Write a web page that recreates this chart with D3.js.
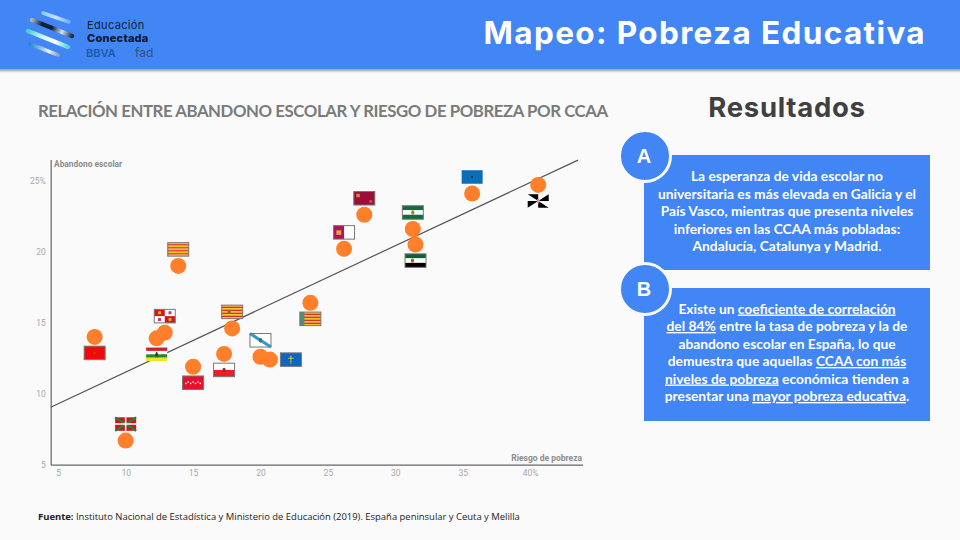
<!DOCTYPE html>
<html>
<head>
<meta charset="utf-8">
<script src="https://cdn.jsdelivr.net/npm/d3@7"></script>
<style>
    html, body { margin: 0; padding: 0; background: #fafafa; }
    svg { display: block; }
</style>
</head>
<body>
<div id="chart"></div>
<script>
// values
const regions = ["Navarra", "País Vasco", "La Rioja", "Castilla y León", "Cataluña", "Madrid", "Cantabria", "Aragón", "Galicia", "Asturias", "C. Valenciana", "Castilla-La Mancha", "Murcia", "Andalucía", "Extremadura", "Canarias", "Ceuta"];
const riesgoPobreza = [7.7, 10.0, 12.3, 12.9, 13.9, 15.0, 17.3, 17.9, 20.0, 20.7, 23.7, 26.2, 27.7, 31.3, 31.5, 35.7, 40.6];
const abandonoEscolar = [14.0, 6.7, 13.9, 14.3, 19.0, 11.9, 12.8, 14.6, 12.6, 12.4, 16.4, 20.2, 22.6, 21.6, 20.5, 24.1, 24.7];
const trendX = [4.44, 43.55];
const trendY = [9.05, 26.45];
const xTicks = [5, 10, 15, 20, 25, 30, 35, 40];
const yTicks = [5, 10, 15, 20, 25];

const textA = [
    [["La esperanza de vida escolar no"]],
    [["universitaria es más elevada en Galicia y el"]],
    [["País Vasco, mientras que presenta niveles"]],
    [["inferiores en las CCAA más pobladas:"]],
    [["Andalucía, Catalunya y Madrid."]]
];
const textB = [
    [["Existe un "], ["coeficiente de correlación", 1]],
    [["del 84%", 1], [" entre la tasa de pobreza y la de"]],
    [["abandono escolar en España, lo que"]],
    [["demuestra que aquellas "], ["CCAA con más", 1]],
    [["niveles de pobreza", 1], [" económica tienden a"]],
    [["presentar una "], ["mayor pobreza educativa", 1], ["."]]
];

const blue = "#4285f4";
const svg = d3.select("#chart").append("svg").attr("width", 960).attr("height", 540);
const defs = svg.append("defs");

// header band with a soft shadow
const shadow = defs.append("linearGradient").attr("id", "headShadow")
    .attr("x1", 0).attr("x2", 0).attr("y1", 0).attr("y2", 1);
shadow.append("stop").attr("offset", 0).attr("stop-color", "#999");
shadow.append("stop").attr("offset", 1).attr("stop-color", "#fafafa");

svg.append("rect").attr("x", 0).attr("y", 69).attr("width", 960).attr("height", 4).attr("fill", "url(#headShadow)");
svg.append("rect").attr("width", 960).attr("height", 69).attr("fill", blue);

svg.append("text")
    .attr("x", 926).attr("y", 44).attr("text-anchor", "end")
    .style("font-family", "Inter").style("font-size", "31.5px").style("font-weight", "700")
    .style("letter-spacing", "1.37px")
    .attr("fill", "#fff")
    .text("Mapeo: Pobreza Educativa");

// logo
const logo = svg.append("g").attr("stroke-linecap", "round").attr("fill", "none");
const logoStroke = (id, stops, x1, y1, x2, y2, w) => {
    const g = defs.append("linearGradient").attr("id", id).attr("gradientUnits", "userSpaceOnUse")
        .attr("x1", x1).attr("y1", y1).attr("x2", x2).attr("y2", y2);
    stops.forEach((c, i) => g.append("stop").attr("offset", i / (stops.length - 1)).attr("stop-color", c));
    logo.append("line").attr("x1", x1).attr("y1", y1).attr("x2", x2).attr("y2", y2)
        .attr("stroke", `url(#${id})`).attr("stroke-width", w);
};
logoStroke("l1", ["#8ccaf6", "#c4e4fa", "#63b4f2"], 43, 13, 69, 22, 3.5);
logoStroke("l2", ["#aab2bc", "#10203a", "#10203a", "#dbe2e8", "#1a2a40"], 32, 20, 72, 36, 4.5);
logoStroke("l3", ["#45d0cf", "#c8f4ef", "#ffffff", "#4fd6cf"], 28, 31, 68, 47, 4.5);
logoStroke("l4", ["#2b86cf", "#7fb9e6", "#e8f0f6", "#9aa4b0"], 30, 44, 58, 55, 3.5);

const logoText = (x, y, size, weight, color, str, spacing) => svg.append("text")
    .attr("x", x).attr("y", y)
    .style("font-family", "Inter").style("font-size", size + "px").style("font-weight", weight)
    .style("letter-spacing", spacing + "px")
    .attr("fill", color).text(str);
logoText(87, 29, 11, 400, "#0d1f3c", "Educación", 0.35);
logoText(87, 42.4, 11, 800, "#0a1a33", "Conectada", 0.25);
logoText(86, 57, 11, 600, "#1d5aa8", "BBVA", 0);
logoText(135, 57, 12, 400, "#31517f", "fad", 0);

// chart title
svg.append("text")
    .attr("x", 38).attr("y", 117)
    .style("font-family", "Lato").style("font-size", "16.8px").style("font-weight", "700")
    .style("letter-spacing", "-0.43px")
    .attr("fill", "#7a7a7a")
    .text("RELACIÓN ENTRE ABANDONO ESCOLAR Y RIESGO DE POBREZA POR CCAA");

// scatter
const x = d3.scaleLinear().domain([4.44, 43.9]).range([50.7, 582.7]);
const y = d3.scaleLinear().domain([5, 26.5]).range([464.7, 159.4]);

const xAxis = svg.append("g")
    .attr("transform", `translate(0,${y(5)})`)
    .call(d3.axisBottom(x).tickValues(xTicks).tickSize(0).tickPadding(5)
        .tickFormat(d => d === 40 ? d + "%" : d));
const yAxis = svg.append("g")
    .attr("transform", `translate(${x.range()[0]},0)`)
    .call(d3.axisLeft(y).tickValues(yTicks).tickSize(0).tickPadding(5)
        .tickFormat(d => d === 25 ? d + "%" : d));

[xAxis, yAxis].forEach(a => {
    a.select(".domain").attr("stroke", "#666").attr("stroke-width", 1.2);
    a.selectAll("text").style("font-family", "Roboto").style("font-size", "8.5px").attr("fill", "#a8a8a8");
});

svg.append("text")
    .attr("x", 54).attr("y", 166.5)
    .style("font-family", "Roboto").style("font-size", "8.4px").style("font-weight", "700")
    .attr("fill", "#8c8c8c").text("Abandono escolar");
svg.append("text")
    .attr("x", 582).attr("y", 460.5).attr("text-anchor", "end")
    .style("font-family", "Roboto").style("font-size", "8.5px").style("font-weight", "700")
    .attr("fill", "#8c8c8c").text("Riesgo de pobreza");

const trendLine = d3.line().x(d => x(d[0])).y(d => y(d[1]));
svg.append("path")
    .datum(d3.zip(trendX, trendY))
    .attr("d", trendLine)
    .attr("fill", "none").attr("stroke", "#555").attr("stroke-width", 1.2);

svg.selectAll(".punto")
    .data(regions)
    .enter().append("circle")
    .attr("class", "punto")
    .attr("cx", (d, i) => x(riesgoPobreza[i]))
    .attr("cy", (d, i) => y(abandonoEscolar[i]))
    .attr("r", 8)
    .attr("fill", "#ff7f2a");

// flags, small drawings around each point
const W = 21, H = 13.5;
const stripes = (g, cols) => {
    const total = d3.sum(cols, c => c[1]);
    let yy = -H / 2;
    cols.forEach(c => {
        const hh = c[1] / total * H;
        g.append("rect").attr("x", -W / 2).attr("y", yy).attr("width", W).attr("height", hh).attr("fill", c[0]);
        yy += hh;
    });
};
const senyera = g => stripes(g, d3.range(9).map(i => [i % 2 ? "#d8351f" : "#f6c21a", 1]));
const box = (g, x0, y0, w, h, c) => g.append("rect").attr("x", x0).attr("y", y0).attr("width", w).attr("height", h).attr("fill", c);
const shield = (g, x0, c) => g.append("ellipse").attr("cx", x0).attr("cy", 0).attr("rx", 1.6).attr("ry", 2.2).attr("fill", c);

const flagDraw = {
    "Navarra": g => { box(g, -W / 2, -H / 2, W, H, "#f00a0a"); shield(g, 0, "#a8551c").attr("rx", 1).attr("ry", 1.2); },
    "País Vasco": g => {
        box(g, -W / 2, -H / 2, W, H, "#c8171e");
        g.append("path").attr("d", `M${-W / 2},${-H / 2}L${W / 2},${H / 2}M${W / 2},${-H / 2}L${-W / 2},${H / 2}`).attr("stroke", "#2f7d32").attr("stroke-width", 2.2);
        g.append("path").attr("d", `M0,${-H / 2}V${H / 2}M${-W / 2},0H${W / 2}`).attr("stroke", "#fff").attr("stroke-width", 1.6);
    },
    "La Rioja": g => {
        stripes(g, [["#d01f2a", 1], ["#fff", 1], ["#1f8a2e", 1], ["#f2e41e", 1]]);
        shield(g, 0, "#333").attr("rx", 1.2);
    },
    "Castilla y León": g => {
        box(g, -W / 2, -H / 2, W, H, "#fff");
        box(g, -W / 2, -H / 2, W / 2, H / 2, "#d3141c");
        box(g, 0, 0, W / 2, H / 2, "#d3141c");
        [[-W / 4, -H / 4, "#e8a420"], [W / 4, -H / 4, "#c0406a"], [-W / 4, H / 4, "#c0406a"], [W / 4, H / 4, "#e8a420"]].forEach(s =>
            box(g, s[0] - 1.5, s[1] - 1.5, 3, 3, s[2]));
    },
    "Cataluña": senyera,
    "Madrid": g => {
        box(g, -W / 2, -H / 2, W, H, "#e8112d");
        d3.range(-3, 4).forEach(i => box(g, i * 2.4 - 0.7, -0.7 + (Math.abs(i) % 2 ? 0.7 : -0.7), 1.4, 1.4, "#fff"));
    },
    "Cantabria": g => { stripes(g, [["#fff", 1], ["#ee1c25", 1]]); shield(g, 0, "#7a3a2a"); },
    "Aragón": g => { senyera(g); shield(g, -3, "#8a6a2a"); },
    "Galicia": g => {
        box(g, -W / 2, -H / 2, W, H, "#fff");
        g.append("path").attr("d", `M${-W / 2},${-H / 2}L${W / 2},${H / 2}`).attr("stroke", "#2b9bd0").attr("stroke-width", 3);
        shield(g, 0, "#3f6a80");
    },
    "Asturias": g => {
        box(g, -W / 2, -H / 2, W, H, "#0f66bd");
        g.append("path").attr("d", "M0,-4V4M-2.6,-1.4H2.6").attr("stroke", "#f5c824").attr("stroke-width", 0.9);
    },
    "C. Valenciana": g => { senyera(g); box(g, -W / 2, -H / 2, 4.5, H, "#4f9070"); },
    "Castilla-La Mancha": g => {
        box(g, -W / 2, -H / 2, W, H, "#fff");
        box(g, -W / 2, -H / 2, W / 2, H, "#b4135a");
        box(g, -W / 4 - 2.5, -2, 5, 4.5, "#e0a83a");
    },
    "Murcia": g => {
        box(g, -W / 2, -H / 2, W, H, "#9b0d3a");
        box(g, -8, -4.5, 3.5, 3.5, "#d08a30");
        box(g, 5, 2, 3, 2.5, "#c85a40");
    },
    "Andalucía": g => { stripes(g, [["#0f6e3a", 1], ["#fff", 1], ["#0f6e3a", 1]]); shield(g, 0, "#8a8a30"); },
    "Extremadura": g => { stripes(g, [["#0f6034", 1], ["#fff", 1], ["#000", 1]]); shield(g, -3, "#8a6a2a"); },
    "Canarias": g => { box(g, -W / 2, -H / 2, W, H, "#0a6eb8"); shield(g, 0, "#223").attr("rx", 0.8).attr("ry", 1); },
    "Ceuta": g => {
        box(g, -W / 2, -H / 2, W, H, "#fafafa");
        g.append("path").attr("d", `M${-W / 2},${-H / 2}L0,${-H / 2}L0,0ZM${W / 2},${-H / 2}L${W / 2},0L0,0ZM${W / 2},${H / 2}L0,${H / 2}L0,0ZM${-W / 2},${H / 2}L${-W / 2},0L0,0Z`).attr("fill", "#000");
        shield(g, 0, "#e08a90");
    }
};
const sinBorde = ["País Vasco", "La Rioja", "Canarias", "Ceuta"];
const debajo = ["Navarra", "La Rioja", "Madrid", "Cantabria", "C. Valenciana", "Extremadura", "Ceuta"];

const flags = svg.selectAll(".bandera")
    .data(regions)
    .enter().append("g")
    .attr("class", "bandera")
    .attr("transform", (d, i) => {
        const fx = x(riesgoPobreza[i]) + (d === "Asturias" ? 21 : 0);
        const fy = y(abandonoEscolar[i]) + (d === "Asturias" ? 0 : debajo.includes(d) ? 16 : -16.5);
        return `translate(${fx},${fy})`;
    });
flags.each(function (d) {
    const g = d3.select(this);
    flagDraw[d](g);
    if (!sinBorde.includes(d)) {
        g.append("rect").attr("x", -W / 2).attr("y", -H / 2).attr("width", W).attr("height", H)
            .attr("fill", "none").attr("stroke", "#777").attr("stroke-width", 1);
    }
});

// right column
svg.append("text")
    .attr("x", 787).attr("y", 117).attr("text-anchor", "middle")
    .style("font-family", "Inter").style("font-size", "27.5px").style("font-weight", "700")
    .style("letter-spacing", "0.7px")
    .attr("fill", "#404040").text("Resultados");

const panel = (top, bottom, letter, lines, firstBase) => {
    svg.append("rect").attr("x", 644).attr("y", top).attr("width", 286).attr("height", bottom - top).attr("fill", blue);
    svg.append("circle").attr("cx", 645).attr("cy", top + 1).attr("r", 25.5)
        .attr("fill", blue).attr("stroke", "#fafafa").attr("stroke-width", 3);
    svg.append("text").attr("x", 644).attr("y", top + 8).attr("text-anchor", "middle")
        .style("font-family", "Liberation Sans").style("font-size", "20px").style("font-weight", "700")
        .attr("fill", "#fff").text(letter);

    lines.forEach((runs, i) => {
        const t = svg.append("text")
            .attr("x", 787).attr("y", firstBase + i * 17.5).attr("text-anchor", "middle")
            .style("font-family", "Lato").style("font-size", "13.8px").style("font-weight", "700")
            .style("white-space", "pre")
            .attr("fill", "#fff");
        runs.forEach(r => t.append("tspan").style("text-decoration", r[1] ? "underline" : "none").text(r[0]));
    });
};
panel(155, 270, "A", textA, 181);
panel(288, 421, "B", textB, 313.5);

// source note
const fuente = svg.append("text")
    .attr("x", 38).attr("y", 520)
    .style("font-family", "Open Sans").style("font-size", "9.45px")
    .attr("fill", "#222");
fuente.append("tspan").style("font-weight", "700").text("Fuente: ");
fuente.append("tspan").text("Instituto Nacional de Estadística y Ministerio de Educación (2019). España peninsular y Ceuta y Melilla");
</script>
</body>
</html>
